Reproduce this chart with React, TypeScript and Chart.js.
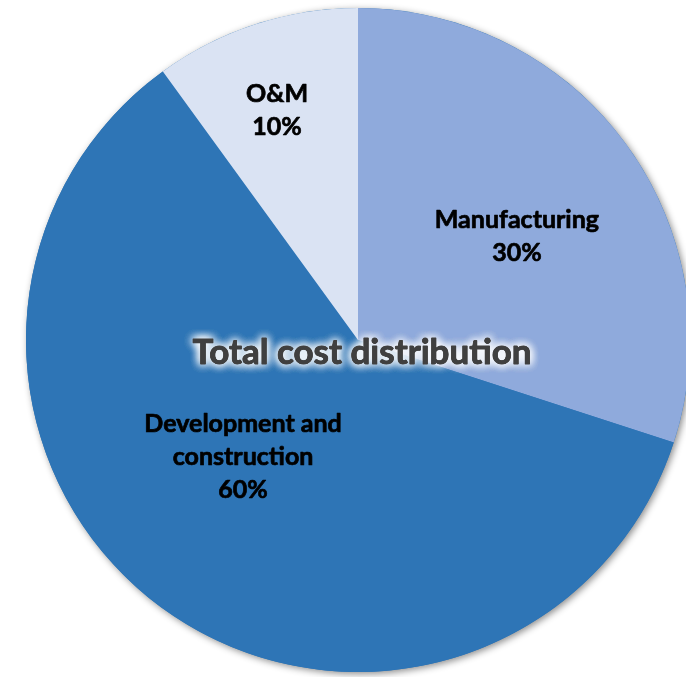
import React, { useEffect, useRef } from "react";
import { Chart, registerables } from "chart.js";

Chart.register(...registerables);

const categories = ["Manufacturing", "Development and construction", "O&M"];
const labelLines = [["Manufacturing"], ["Development and", "construction"], ["O&M"]];
const shares = [30, 60, 10];
const colors = ["#8FAADC", "#2E75B6", "#DAE3F3"];
const centerTitle = "Total cost distribution";

const FONT = "Lato, 'Open Sans', sans-serif";

// placement of each label: [radius fraction, angle delta in degrees]
const labelPlacement = [
  [0.572, 2.8],
  [0.494, 8.5],
  [0.734, -1.4],
];

const piePlugin = {
  id: "pieDecor",
  beforeDatasetsDraw(chart: any) {
    const meta = chart.getDatasetMeta(0);
    const a = meta.data[0];
    if (!a) return;
    const ctx = chart.ctx;
    ctx.save();
    ctx.beginPath();
    ctx.arc(a.x, a.y, a.outerRadius, 0, Math.PI * 2);
    ctx.fillStyle = "#2E75B6";
    ctx.shadowColor = "rgba(0,0,0,0.45)";
    ctx.shadowBlur = 7;
    ctx.shadowOffsetX = 2;
    ctx.shadowOffsetY = 2;
    ctx.fill();
    ctx.restore();
  },
  afterDatasetsDraw(chart: any) {
    const meta = chart.getDatasetMeta(0);
    const ctx = chart.ctx;
    const data = chart.data.datasets[0].data;
    const total = data.reduce((s: number, v: number) => s + v, 0);
    ctx.save();
    ctx.textAlign = "center";
    ctx.textBaseline = "middle";
    ctx.lineJoin = "round";
    meta.data.forEach((arc: any, i: number) => {
      const [frac, dDeg] = labelPlacement[i];
      const mid = (arc.startAngle + arc.endAngle) / 2 + (dDeg * Math.PI) / 180;
      const r = arc.outerRadius * frac;
      const cx = arc.x + Math.cos(mid) * r;
      const cy = arc.y + Math.sin(mid) * r;
      const lines = [...labelLines[i], Math.round((data[i] / total) * 100) + "%"];
      const lh = 33;
      ctx.font = `bold 25px ${FONT}`;
      ctx.fillStyle = "#000000";
      ctx.strokeStyle = "#000000";
      ctx.lineWidth = 0.7;
      lines.forEach((ln: string, k: number) => {
        const y = cy + (k - (lines.length - 1) / 2) * lh;
        ctx.fillText(ln, cx, y);
        ctx.strokeText(ln, cx, y);
      });
    });
    const a0 = meta.data[0];
    if (a0) {
      const tx = a0.x + 4;
      const ty = a0.y + 13;
      ctx.font = `bold 35px ${FONT}`;
      ctx.fillStyle = "#404040";
      ctx.shadowColor = "rgba(255,255,255,1)";
      ctx.shadowBlur = 10;
      for (let k = 0; k < 4; k++) ctx.fillText(centerTitle, tx, ty);
      ctx.shadowBlur = 0;
      ctx.fillText(centerTitle, tx, ty);
      ctx.strokeStyle = "#404040";
      ctx.lineWidth = 0.8;
      ctx.strokeText(centerTitle, tx, ty);
    }
    ctx.restore();
  },
};

export default function App() {
  const ref = useRef<HTMLCanvasElement | null>(null);
  useEffect(() => {
    if (!ref.current) return;
    const chart = new Chart(ref.current, {
      type: "pie",
      data: {
        labels: categories,
        datasets: [
          {
            data: shares,
            backgroundColor: colors,
            borderWidth: 0,
          },
        ],
      },
      options: {
        animation: false,
        responsive: false,
        devicePixelRatio: 1,
        layout: { padding: { left: 26, top: 8, right: 30, bottom: 18 } },
        plugins: {
          legend: { display: false },
          tooltip: { enabled: false },
        },
      },
      plugins: [piePlugin],
    });
    return () => chart.destroy();
  }, []);
  return (
    <div
      style={{
        position: "fixed",
        left: 0,
        top: 0,
        width: 686,
        height: 677,
        overflow: "hidden",
        background: "#ffffff",
      }}
    >
      <canvas ref={ref} width={720} height={690} style={{ position: "absolute", left: 0, top: 0 }} />
    </div>
  );
}
